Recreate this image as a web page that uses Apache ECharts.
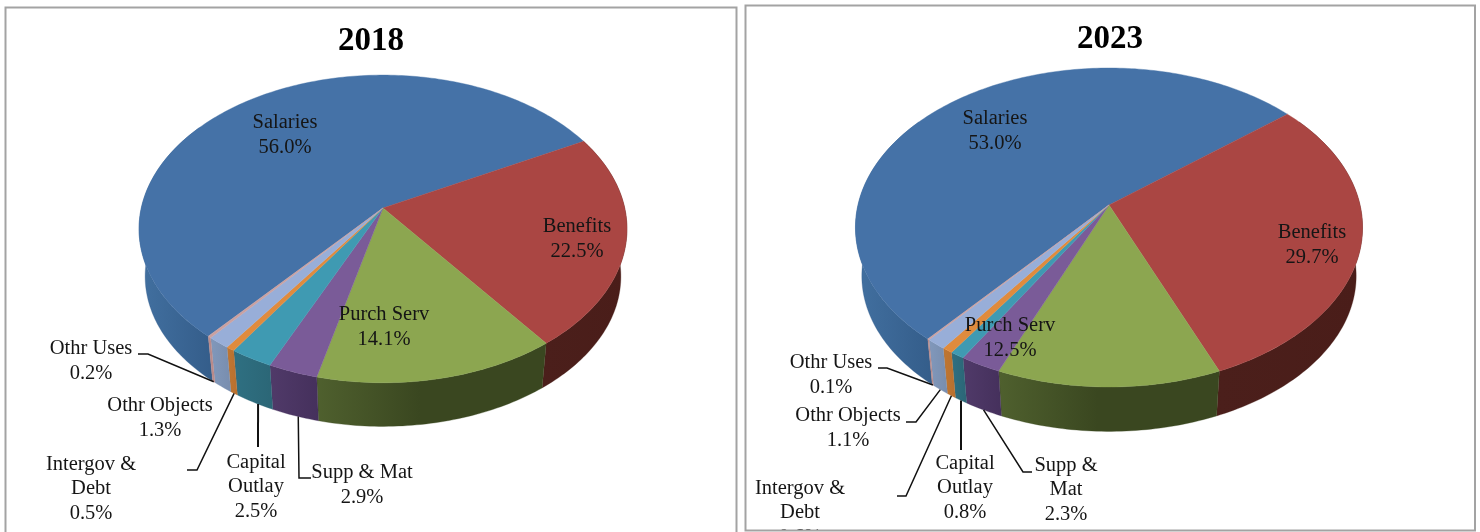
<!DOCTYPE html>
<html><head><meta charset="utf-8">
<style>html,body{margin:0;padding:0;background:#fff}#c{width:1480px;height:532px}</style>
<script src="https://cdn.jsdelivr.net/npm/echarts@6/dist/echarts.min.js"></script>
</head><body><div id="c"></div>
<script>
// ---- data ----
const categories = ['Salaries','Benefits','Purch Serv','Supp & Mat','Capital Outlay','Intergov & Debt','Othr Objects','Othr Uses'];
const values2018 = [56.0,22.5,14.1,2.9,2.5,0.5,1.3,0.2];
const values2023 = [53.0,29.7,12.5,2.3,0.8,0.6,1.1,0.1];
const wrapped2018 = ['Salaries','Benefits','Purch Serv','Supp & Mat','Capital\nOutlay','Intergov &\nDebt','Othr Objects','Othr Uses'];
const wrapped2023 = ['Salaries','Benefits','Purch Serv','Supp &\nMat','Capital\nOutlay','Intergov &\nDebt','Othr Objects','Othr Uses'];

// ---- styles ----
const topColors = ['#4572a7','#aa4643','#8ca650','#7a5b98','#3f9ab2','#e08b3d','#98aed8','#c9a0a0'];
const sideColors = [['#4270a0','#345d8a'],['#4b1f1b','#4a1d19'],['#4f602e','#3a4720'],['#503a69','#45305c'],
                    ['#2f7082','#2b6676'],['#bf7631','#b87030'],['#8198bb','#788dae'],['#b98a8a','#b98a8a']];
const FONT = '"Liberation Serif", serif';

// ---- layout of each pie (perspective disc) ----
const layout2018 = {cx:383, cy:208, s:151, sx:241.7, k:0.136, depth:48, shrink:0.975, start:220.4,
  labels:[[285,135],[577,239],[384,327],[362,485],[256,487],[91,489],[160,418],[91,361]],
  leaders:{3:[.43,[[299,478],[311,478]]],4:[.4,[[258,447]]],5:[.5,[[197,470],[187,470]]],7:[.5,[[148,354],[138,354]]]}};
const layout2023 = {cx:1109, cy:205, s:156.3, sx:251, k:0.141, depth:49, shrink:0.975, start:220.1,
  labels:[[995,131],[1312,245],[1010,338],[1066,490],[965,488],[800,513],[848,428],[831,375]],
  leaders:{3:[.5,[[1023,472],[1032,472]]],4:[.5,[[961,450]]],5:[.5,[[906,496],[897,496]]],6:[.5,[[916,422],[906,422]]],7:[.5,[[887,368],[878,368]]]}};

function project(L, deg, bottom){
  const t = deg*Math.PI/180, u = Math.sin(t), v = -Math.cos(t), w = 1 - L.k*v;
  const f = bottom ? L.shrink : 1;
  return [L.cx + f*L.sx*u/w, L.cy + f*L.s*v/w + (bottom ? L.depth : 0)];
}
function arc(L, a, b, bottom){
  const pts = [], n = Math.max(2, Math.ceil(Math.abs(b-a)));
  for(let i=0;i<=n;i++) pts.push(project(L, a+(b-a)*i/n, bottom));
  return pts;
}
function ranges(values, L){
  const total = values.reduce((p,c)=>p+c,0); let a = L.start;
  return values.map(v=>{ const r=[a, a+v/total*360]; a=r[1]; return r; });
}
function visible(r){
  // the wall only shows on the front of the disc
  for(const off of [0,360,-360]){
    const a=Math.max(r[0]+off,55), b=Math.min(r[1]+off,305);
    if(b>a) return [a,b];
  }
  return null;
}

function pieSeries(values, wrapped, L){
  const R = ranges(values, L);
  const base = {type:'custom', coordinateSystem:'none', silent:true, clip:false, animation:false,
    data: categories.map((n,i)=>({name:n, value:values[i]}))};
  return [
    Object.assign({}, base, {z:2, name:'wall', renderItem(p){
      const i=p.dataIndex, r=visible(R[i]); if(!r) return {type:'group',children:[]};
      const pts = arc(L,r[0],r[1],false).concat(arc(L,r[1],r[0],true));
      return {type:'polygon', shape:{points:pts}, style:{
        fill:new echarts.graphic.LinearGradient(0,0,1,0,[{offset:0,color:sideColors[i][0]},{offset:i===2?.45:1,color:sideColors[i][1]},{offset:1,color:sideColors[i][1]}]),
        stroke:sideColors[i][1], lineWidth:.3}};
    }}),
    Object.assign({}, base, {z:3, name:'face', renderItem(p){
      const i=p.dataIndex, r=R[i];
      const pts=[[L.cx,L.cy]].concat(arc(L,r[0],r[1],false));
      return {type:'polygon', shape:{points:pts}, style:{fill:topColors[i], stroke:topColors[i], lineWidth:.4}};
    }}),
    Object.assign({}, base, {z:4, name:'labels', renderItem(p,api){
      const i=p.dataIndex, ch=[], ld=L.leaders[i], c=L.labels[i];
      if(ld){
        const r=R[i], st=project(L, r[0]+(r[1]-r[0])*ld[0], true);
        ch.push({type:'polyline', shape:{points:[st].concat(ld[1])},
          style:{fill:'none', stroke:'#111', lineWidth:i===4?2:1.5}});
      }
      ch.push({type:'text', style:{x:c[0], y:c[1], align:'center', verticalAlign:'middle',
        text:wrapped[i]+'\n'+api.value(0).toFixed(1)+'%', font:'20.5px '+FONT, lineHeight:24.4, fill:'#151515'}});
      return {type:'group', children:ch};
    }})
  ];
}

const chart = echarts.init(document.getElementById('c'));
chart.setOption({
  backgroundColor:'#fff',
  animation:false,
  title:[
    {text:'2018', left:366, top:20, textAlign:'center', textStyle:{fontFamily:FONT, fontSize:33, fontWeight:'bold', color:'#000'}},
    {text:'2023', left:1105, top:18, textAlign:'center', textStyle:{fontFamily:FONT, fontSize:33, fontWeight:'bold', color:'#000'}}
  ],
  graphic:[
    {type:'rect', z:-1, shape:{x:5.5,y:7.5,width:731,height:540}, style:{fill:'#fff', stroke:'#a3a3a3', lineWidth:2}},
    {type:'rect', z:100, shape:{x:746,y:530,width:729,height:3}, style:{fill:'#fff'}},
    {type:'rect', z:101, shape:{x:745.5,y:5.5,width:729.5,height:525}, style:{fill:'none', stroke:'#a3a3a3', lineWidth:2}}
  ],
  series:[...pieSeries(values2018,wrapped2018,layout2018), ...pieSeries(values2023,wrapped2023,layout2023)]
});
</script></body></html>
